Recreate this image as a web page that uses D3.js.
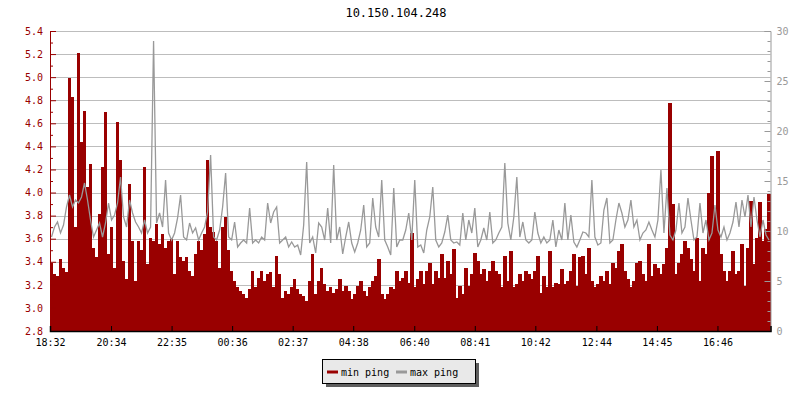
<!DOCTYPE html>
<html>
<head>
<meta charset="utf-8">
<script src="https://cdn.jsdelivr.net/npm/d3@7"></script>
<style>
  html, body { margin: 0; padding: 0; background: #fff; }
  svg text { font-family: "DejaVu Sans Mono", monospace; font-size: 10px; }
</style>
</head>
<body>
<svg id="chart" width="800" height="400"></svg>
<script>
// ---------- data ----------
const chartTitle = "10.150.104.248";
const startTime = "18:32";
const sampleMinutes = 6;
const timeTickLabels = ["18:32","20:34","22:35","00:36","02:37","04:38","06:40","08:41","10:42","12:44","14:45","16:46"];
const leftTickValues = [2.8,3.0,3.2,3.4,3.6,3.8,4.0,4.2,4.4,4.6,4.8,5.0,5.2,5.4];
const rightTickValues = [0,5,10,15,20,25,30];
const seriesNames = ["min ping", "max ping"];

const minPing = [
 3.39,3.29,3.28,3.42,3.35,3.31,4.99,4.83,3.70,5.21, 4.44,4.71,4.05,4.25,3.52,3.44,3.81,4.22,4.70,3.47,
 3.70,3.35,4.61,4.28,3.41,3.25,4.07,3.58,3.23,3.58, 3.50,4.22,3.38,3.61,3.58,3.73,3.55,3.64,3.52,3.58,
 3.60,3.29,3.58,3.44,3.41,3.44,3.32,3.28,3.47,3.58, 3.50,3.64,4.28,3.70,3.66,3.58,3.35,3.70,3.79,3.50,
 3.32,3.23,3.18,3.15,3.12,3.09,3.16,3.32,3.18,3.26, 3.32,3.23,3.29,3.31,3.18,3.45,3.29,3.09,3.15,3.12,
 3.18,3.25,3.16,3.12,3.10,3.06,3.23,3.47,3.12,3.23, 3.35,3.21,3.15,3.18,3.13,3.16,3.25,3.15,3.19,3.15,
 3.08,3.12,3.19,3.23,3.15,3.10,3.18,3.23,3.28,3.42, 3.12,3.08,3.12,3.18,3.16,3.32,3.23,3.26,3.32,3.22,
 3.65,3.18,3.25,3.32,3.21,3.32,3.39,3.21,3.32,3.26, 3.47,3.26,3.41,3.29,3.51,3.09,3.19,3.12,3.35,3.19,
 3.29,3.48,3.41,3.29,3.34,3.23,3.32,3.41,3.32,3.29, 3.18,3.45,3.23,3.49,3.18,3.21,3.29,3.23,3.32,3.29,
 3.25,3.32,3.45,3.13,3.28,3.18,3.49,3.18,3.22,3.21, 3.34,3.21,3.23,3.32,3.47,3.19,3.44,3.45,3.29,3.52,
 3.23,3.18,3.21,3.28,3.23,3.32,3.21,3.39,3.35,3.49, 3.55,3.32,3.25,3.18,3.23,3.39,3.41,3.29,3.23,3.55,
 3.28,3.38,3.35,3.29,3.38,3.52,4.78,3.90,3.29,3.39, 3.47,3.58,3.52,3.42,3.32,3.61,3.23,3.52,3.47,4.00,
 4.32,3.86,4.36,3.47,3.32,3.23,3.32,3.49,3.29,3.32, 3.55,3.19,3.52,3.93,3.38,3.61,3.92,3.58,3.68,3.99
];

const maxPing = [
 9.4,10.4,10.9,9.8,10.6,12.4,13.6,12.4,13.1,12.8, 13.4,14.8,13.1,11.1,9.4,10.1,10.8,9.4,10.8,12.8,
 11.1,11.6,12.8,15.4,11.4,10.4,13.1,11.8,10.9,10.4, 9.8,11.1,9.8,10.4,29.0,10.8,11.8,10.4,15.1,9.8,
 9.1,9.8,11.3,13.6,9.4,9.1,10.8,9.8,10.3,9.1, 9.8,10.4,11.9,17.6,9.4,9.1,10.1,12.4,15.8,9.4,
 9.1,10.9,8.4,8.8,9.1,8.8,12.3,8.8,9.1,8.8, 9.4,9.1,12.8,10.8,11.9,12.4,8.8,9.1,9.4,8.4,
 8.9,8.4,8.6,7.6,10.6,16.9,8.8,9.4,7.8,10.8, 10.4,9.1,12.3,8.8,16.6,9.1,10.4,7.7,9.4,10.9,
 8.8,7.9,8.8,10.1,12.6,8.4,8.8,13.3,10.4,9.4, 15.1,9.1,8.4,7.6,14.3,8.4,9.1,9.1,10.1,11.8,
 9.1,15.1,8.4,8.6,7.8,10.1,11.4,14.4,9.1,8.4, 8.8,9.9,11.6,9.1,8.8,8.9,8.6,11.8,9.1,11.1,
 9.8,12.3,8.4,9.1,10.3,9.1,11.9,8.8,9.1,9.8, 10.4,16.8,10.8,9.1,11.4,15.4,9.4,10.9,9.1,8.8,
 9.1,11.9,9.8,8.8,9.4,8.8,9.1,11.1,8.4,10.1, 9.1,12.8,9.1,11.6,8.9,8.4,9.1,9.9,9.8,9.4,
 15.1,9.4,8.6,8.8,12.1,13.3,8.8,9.1,11.1,12.8, 11.8,10.4,11.1,13.1,10.4,11.1,9.1,9.8,10.1,10.9,
 10.1,9.4,11.1,16.1,9.8,14.3,9.6,9.1,10.1,12.8, 9.8,10.4,13.3,11.1,9.1,9.4,12.8,9.8,11.1,9.1,
 9.8,12.6,10.1,9.4,10.4,9.1,9.8,10.9,12.9,10.4, 13.1,11.4,13.6,10.4,13.4,11.1,9.4,11.1,9.6,9.1
];

// ---------- helpers ----------
function toMin(lbl) { const [h, m] = lbl.split(":").map(Number); return h * 60 + m; }
const t0 = toMin(startTime);
function offsetOf(lbl) { let d = toMin(lbl) - t0; if (d < 0) d += 1440; return d; }

const svg = d3.select("#chart");
const L = 50, R = 770.5, T = 31, B = 331;
const red = "#990000", gray = "#999999";

const x = d3.scaleLinear().domain([0, 1440]).range([L, R]);
const yL = d3.scaleLinear().domain([2.8, 5.4]).range([B, T]);
const yR = d3.scaleLinear().domain([0, 30]).range([B, T]);

// title
svg.append("text").attr("x", 396).attr("y", 17).attr("text-anchor", "middle")
  .attr("fill", "#000").style("font-size", "12px").text(chartTitle);

// grid
svg.append("g").selectAll("line").data(leftTickValues.filter(v => v > 2.8)).join("line")
  .attr("x1", L).attr("x2", R).attr("y1", d => Math.round(yL(d)) + 0.5).attr("y2", d => Math.round(yL(d)) + 0.5)
  .attr("stroke", "#bdbdbd").attr("stroke-width", 1);

// min ping bars
const samples = minPing.map((v, i) => ({ t: i * sampleMinutes, min: v, max: maxPing[i] }));
svg.append("g").selectAll("rect").data(samples).join("rect")
  .attr("x", d => x(d.t))
  .attr("width", d => x(d.t + sampleMinutes) - x(d.t) + 0.3)
  .attr("y", d => yL(d.min))
  .attr("height", d => B - yL(d.min))
  .attr("fill", red)
  .attr("shape-rendering", "crispEdges");

// max ping line
svg.append("path").datum(samples)
  .attr("d", d3.line().x(d => x(d.t + sampleMinutes / 2)).y(d => yR(d.max)))
  .attr("fill", "none").attr("stroke", gray).attr("stroke-width", 1.3)
  .attr("stroke-linejoin", "miter");

// left axis
const gL = svg.append("g").attr("transform", `translate(${L},0)`);
gL.call(d3.axisLeft(yL).tickValues(leftTickValues).tickFormat(d3.format(".1f")).tickSize(-6).tickPadding(7));
gL.append("g").call(d3.axisLeft(yL).tickValues(d3.range(29, 54, 2).map(v => v / 10)).tickFormat("").tickSize(-3))
  .select(".domain").remove();
gL.selectAll("line, path").attr("stroke", red);
gL.selectAll("text").attr("fill", red).style("font-size", "10px");

// right axis
const gR = svg.append("g").attr("transform", `translate(${R},0)`);
gR.call(d3.axisRight(yR).tickValues(rightTickValues).tickSize(-6).tickPadding(6));
gR.append("g").call(d3.axisRight(yR).tickValues(d3.range(0, 31).filter(v => v % 5 !== 0)).tickFormat("").tickSize(-3))
  .select(".domain").remove();
gR.selectAll("line, path").attr("stroke", gray);
gR.selectAll("text").attr("fill", gray).style("font-size", "10px");

// bottom axis
const gB = svg.append("g").attr("transform", `translate(0,${B})`);
gB.call(d3.axisBottom(x).tickValues(timeTickLabels.map(offsetOf)).tickFormat((d, i) => timeTickLabels[i]).tickSize(-5).tickPadding(8));
gB.selectAll("line, path").attr("stroke", "#000");
gB.select(".domain").attr("stroke-width", 1.5);
gB.selectAll("text").attr("fill", "#000").style("font-size", "10px");

// legend
const lg = svg.append("g");
lg.append("rect").attr("x", 326).attr("y", 363).attr("width", 153).attr("height", 24).attr("fill", "#5e5e5e");
lg.append("rect").attr("x", 322.5).attr("y", 359.5).attr("width", 153).attr("height", 24)
  .attr("fill", "#e9e9e9").attr("stroke", "#000").attr("stroke-width", 1);
const legendColors = [red, gray];
const legendX = [327, 396];
seriesNames.forEach((name, i) => {
  lg.append("line").attr("x1", legendX[i]).attr("x2", legendX[i] + 11).attr("y1", 372).attr("y2", 372)
    .attr("stroke", legendColors[i]).attr("stroke-width", 3);
  lg.append("text").attr("x", legendX[i] + 14).attr("y", 375.5).attr("fill", "#000")
    .style("font-size", "10px").text(name);
});
</script>
</body>
</html>
